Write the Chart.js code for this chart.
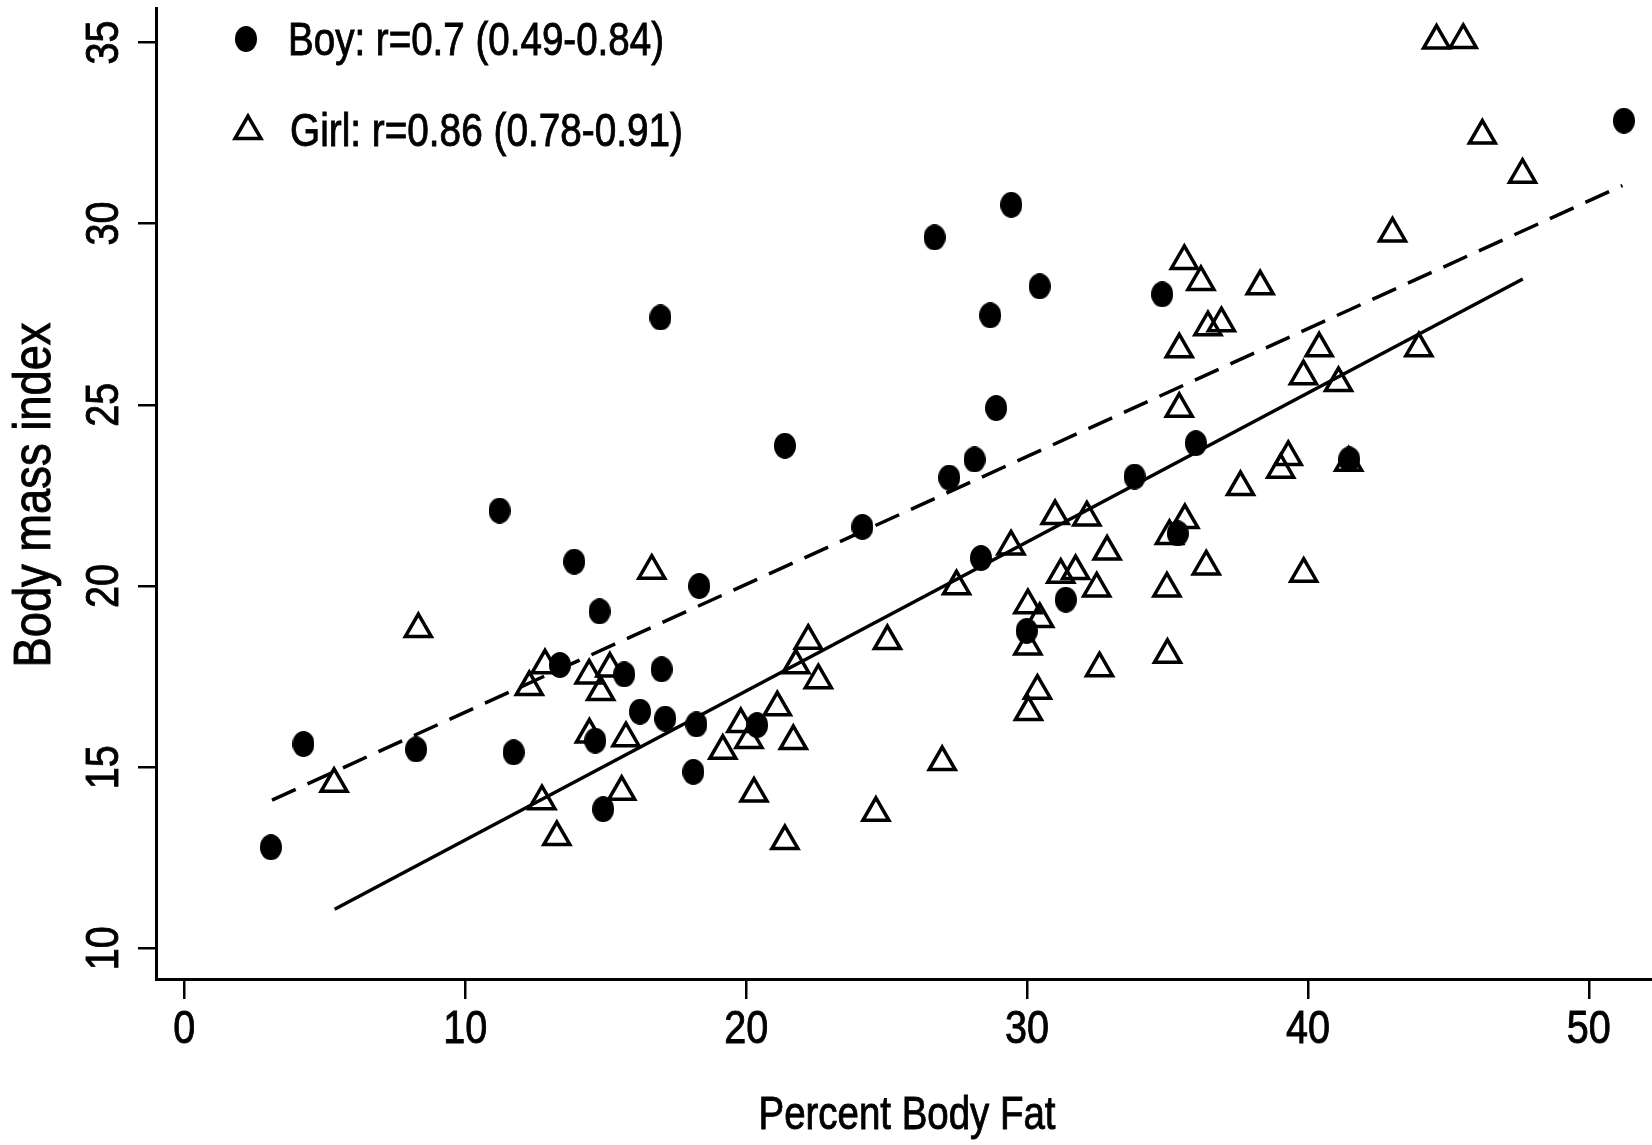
<!DOCTYPE html>
<html>
<head>
<meta charset="utf-8">
<title>Body mass index vs Percent Body Fat</title>
<script src="https://cdn.jsdelivr.net/npm/chart.js@4.4.1/dist/chart.umd.min.js"></script>
<style>
  html, body { margin: 0; padding: 0; background: #fff; }
  #wrap { width: 1652px; height: 1145px; position: relative; }
</style>
</head>
<body>
<div id="wrap"><canvas id="bmiChart"></canvas></div>
<script>
// percent body fat / BMI
const boyFat = [3.08, 4.24, 8.25, 11.22, 11.72, 13.37, 13.88, 14.63, 14.78, 14.91, 15.66, 16.22, 16.95, 16.99, 17.12, 18.12, 18.23, 18.33, 20.39, 21.38, 24.14, 26.71, 27.23, 28.13, 28.36, 28.69, 28.90, 29.44, 29.99, 30.45, 31.38, 33.83, 34.81, 35.37, 36.01, 41.47, 51.25];
const boyBmi = [12.79, 15.64, 15.49, 22.08, 15.41, 17.82, 20.67, 15.73, 19.30, 13.84, 17.56, 16.53, 27.41, 17.70, 16.34, 14.87, 16.18, 20.00, 16.16, 23.87, 21.63, 29.62, 22.99, 23.49, 20.77, 27.47, 24.91, 30.52, 18.76, 28.27, 19.62, 23.02, 28.05, 21.45, 23.94, 23.49, 32.84];

const girlFat = [5.33, 8.33, 12.28, 12.73, 12.84, 13.26, 14.41, 14.42, 14.82, 15.15, 15.57, 15.72, 16.64, 19.17, 19.81, 20.10, 20.28, 21.11, 21.38, 21.68, 21.77, 22.21, 22.57, 24.62, 25.03, 26.98, 27.49, 29.43, 30.03, 30.03, 30.05, 30.37, 30.45, 31.00, 31.20, 31.73, 32.13, 32.48, 32.58, 32.85, 34.98, 35.00, 35.07, 35.42, 35.42, 35.62, 35.60, 36.19, 36.38, 36.44, 36.92, 37.60, 38.30, 39.03, 39.30, 39.85, 39.84, 40.40, 41.09, 41.45, 43.01, 43.95, 44.58, 45.53, 46.21, 47.64];
const girlBmi = [14.54, 18.81, 17.21, 14.06, 17.81, 13.07, 17.53, 15.90, 17.07, 17.72, 14.32, 15.80, 20.42, 15.45, 16.19, 15.75, 14.27, 16.65, 12.96, 15.72, 17.81, 18.49, 17.40, 13.74, 18.48, 15.14, 19.99, 21.09, 19.47, 18.33, 16.52, 17.11, 19.09, 21.93, 20.31, 20.41, 21.89, 19.93, 17.73, 20.95, 19.93, 18.10, 21.38, 26.53, 24.89, 21.82, 28.97, 28.39, 20.54, 27.14, 27.25, 22.73, 28.27, 23.21, 23.56, 20.34, 25.79, 26.56, 25.60, 23.40, 29.73, 26.56, 35.05, 35.07, 32.43, 31.35];

// fitted lines (end points as drawn)
const boyLineFat = [3.12, 51.2];
const boyLineBmi = [14.09, 31.05];
const girlLineFat = [5.35, 47.65];
const girlLineBmi = [11.08, 28.47];

const xTicks = [0, 10, 20, 30, 40, 50];
const yTicks = [10, 15, 20, 25, 30, 35];
const legendLabels = ['Boy: r=0.7 (0.49-0.84)', 'Girl: r=0.86 (0.78-0.91)'];
const xTitle = 'Percent Body Fat';
const yTitle = 'Body mass index';

// no narrow font installed, so text is squeezed by hand
const textFont = '"Liberation Sans", Arial, sans-serif';

function toPoints(xs, ys) {
    return xs.map((x, i) => ({ x: x, y: ys[i] }));
}

function squeezedText(c, text, size, x, y, opts) {
    c.save();
    c.translate(x, y);
    if (opts.rotate) c.rotate(opts.rotate);
    c.font = size + 'px ' + textFont;
    let sx = opts.sx || 1;
    if (opts.width) sx = opts.width / c.measureText(text).width;
    c.scale(sx, 1);
    c.textAlign = opts.align || 'left';
    c.textBaseline = 'alphabetic';
    c.fillStyle = '#000';
    c.strokeStyle = '#000';
    c.lineWidth = 0.9;
    c.fillText(text, 0, 0);
    c.strokeText(text, 0, 0);
    c.restore();
}

// slightly tall filled dot, like the original marker
function makeDot(w, h) {
    const c = document.createElement('canvas');
    c.width = w;
    c.height = h;
    const g = c.getContext('2d');
    g.fillStyle = '#000';
    g.beginPath();
    g.ellipse(w / 2, h / 2, w / 2, h / 2, 0, 0, Math.PI * 2);
    g.fill();
    return c;
}
const dot = makeDot(22, 26);

const whiteBg = {
    id: 'whiteBg',
    beforeDraw(chart) {
        const c = chart.ctx;
        c.save();
        c.fillStyle = '#fff';
        c.fillRect(0, 0, chart.width, chart.height);
        c.restore();
    }
};

// tick labels and axis titles
const axisText = {
    id: 'axisText',
    afterDraw(chart) {
        const c = chart.ctx;
        const xs = chart.scales.x, ys = chart.scales.y;
        xTicks.forEach(v => {
            squeezedText(c, String(v), 46, xs.getPixelForValue(v), 1043, { sx: 0.86, align: 'center' });
        });
        yTicks.forEach(v => {
            squeezedText(c, String(v), 46, 118, ys.getPixelForValue(v), { sx: 0.86, align: 'center', rotate: -Math.PI / 2 });
        });
        squeezedText(c, xTitle, 47, (xs.left + xs.right) / 2 + 3, 1129, { width: 297, align: 'center' });
        squeezedText(c, yTitle, 51, 50, 495, { width: 345, align: 'center', rotate: -Math.PI / 2 });
    }
};

// legend in the top left corner of the plot
const cornerLegend = {
    id: 'cornerLegend',
    afterDatasetsDraw(chart) {
        const c = chart.ctx;
        const left = chart.chartArea.left;
        c.save();
        c.drawImage(dot, left + 90 - 11, 39 - 13);
        const tx = left + 92, ty = 131, r = 15;
        c.beginPath();
        c.moveTo(tx, ty - r);
        c.lineTo(tx + r * Math.sin(Math.PI / 3), ty + r / 2);
        c.lineTo(tx - r * Math.sin(Math.PI / 3), ty + r / 2);
        c.closePath();
        c.lineWidth = 3.5;
        c.strokeStyle = '#000';
        c.stroke();
        c.restore();
        squeezedText(c, legendLabels[0], 46, left + 132, 55, { width: 376 });
        squeezedText(c, legendLabels[1], 46, left + 134, 146, { width: 393 });
    }
};

const axisGrid = {
    display: true,
    drawOnChartArea: false,
    drawTicks: true,
    lineWidth: 2.5,
    tickWidth: 2.5,
    tickColor: '#000',
    color: '#000'
};

function noPadding(s) {
    s.paddingTop = 0;
    s.paddingBottom = 0;
    s.paddingLeft = 0;
    s.paddingRight = 0;
}

const ctx = document.getElementById('bmiChart').getContext('2d');

new Chart(ctx, {
    type: 'scatter',
    data: {
        datasets: [
            {
                label: legendLabels[0],
                data: toPoints(boyFat, boyBmi),
                pointStyle: dot,
                pointRadius: 11,
                order: 0
            },
            {
                label: 'Boy fit',
                data: toPoints(boyLineFat, boyLineBmi),
                showLine: true,
                pointRadius: 0,
                borderColor: '#000',
                borderWidth: 3.5,
                borderDash: [26, 13],
                order: 1
            },
            {
                label: 'Girl fit',
                data: toPoints(girlLineFat, girlLineBmi),
                showLine: true,
                pointRadius: 0,
                borderColor: '#000',
                borderWidth: 3.5,
                order: 1
            },
            {
                label: legendLabels[1],
                data: toPoints(girlFat, girlBmi),
                pointStyle: 'triangle',
                pointRadius: 15,
                borderWidth: 3.5,
                borderColor: '#000',
                backgroundColor: 'rgba(0,0,0,0)',
                order: 2
            }
        ]
    },
    options: {
        responsive: true,
        maintainAspectRatio: false,
        animation: false,
        layout: { autoPadding: false, padding: { top: 8, right: 0, left: 0, bottom: 0 } },
        plugins: {
            legend: { display: false },
            tooltip: { enabled: false }
        },
        scales: {
            x: {
                type: 'linear',
                min: -1.01,
                max: 52.25,
                afterBuildTicks: s => { s.ticks = xTicks.map(v => ({ value: v })); },
                afterFit: s => { s.height = 166; noPadding(s); },
                grid: Object.assign({ tickLength: 20 }, axisGrid),
                border: { display: true, color: '#000', width: 3 },
                ticks: { display: false }
            },
            y: {
                type: 'linear',
                min: 9.153,
                max: 35.95,
                afterBuildTicks: s => { s.ticks = yTicks.map(v => ({ value: v })); },
                afterFit: s => { s.width = 156; noPadding(s); },
                grid: Object.assign({ tickLength: 18 }, axisGrid),
                border: { display: true, color: '#000', width: 3 },
                ticks: { display: false }
            }
        }
    },
    plugins: [whiteBg, axisText, cornerLegend]
});
</script>
</body>
</html>
